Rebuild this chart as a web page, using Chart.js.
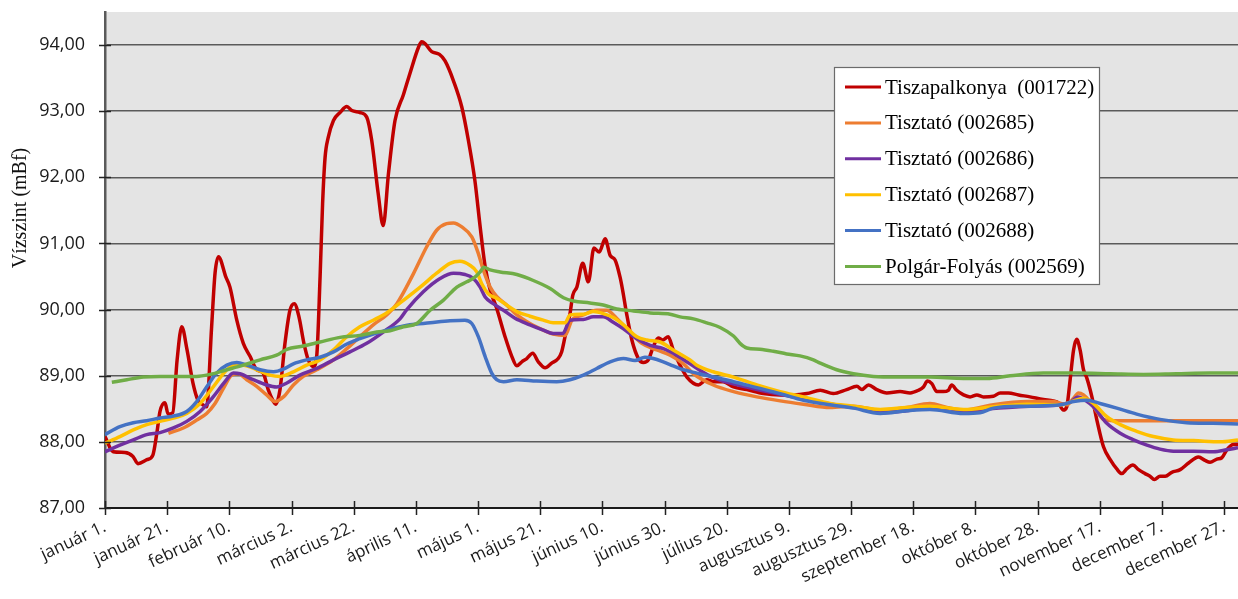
<!DOCTYPE html>
<html lang="hu">
<head>
<meta charset="utf-8">
<title>Vízszint idősorok</title>
<script src="https://cdn.jsdelivr.net/npm/chart.js@4.4.1/dist/chart.umd.min.js"></script>
<style>
  html, body { margin: 0; padding: 0; background: #ffffff; }
  #wrap { width: 1238px; height: 599px; position: relative; }
</style>
</head>
<body>
<div id="wrap"><canvas id="chart" width="1238" height="599"></canvas></div>
<script>
// Tengely feliratok (napok az év elejétől, 20 naponként)
const dateLabels = ['január 1.', 'január 21.', 'február 10.', 'március 2.', 'március 22.', 'április 11.',
  'május 1.', 'május 21.', 'június 10.', 'június 30.', 'július 20.', 'augusztus 9.', 'augusztus 29.',
  'szeptember 18.', 'október 8.', 'október 28.', 'november 17.', 'december 7.', 'december 27.'];
const yTickValues = [87, 88, 89, 90, 91, 92, 93, 94];
const yTickLabels = ['87,00', '88,00', '89,00', '90,00', '91,00', '92,00', '93,00', '94,00'];

const seriesNames = ['Tiszapalkonya  (001722)', 'Tisztató (002685)', 'Tisztató (002686)',
  'Tisztató (002687)', 'Tisztató (002688)', 'Polgár-Folyás (002569)'];

// [nap, vízszint mBf]
const tiszapalkonya = [[0,88.08],[2.6,87.85],[6.4,87.84],[9.0,87.78],[10.6,87.67],[13.5,87.73],[15.4,87.80],[16.7,88.14],[17.7,88.46],[19.3,88.59],[20.3,88.42],[21.8,88.44],[23.2,89.24],[24.7,89.74],[26.4,89.39],[28.3,88.89],[29.9,88.63],[31.5,88.56],[32.7,88.53],[34.3,89.74],[35.4,90.55],[36.5,90.80],[38.9,90.49],[40.2,90.34],[42.4,89.84],[44.5,89.49],[46.7,89.29],[48.8,89.09],[50.9,89.04],[52.5,88.79],[54.2,88.61],[54.9,88.57],[56.3,88.79],[57.9,89.49],[59.5,89.99],[60.9,90.09],[62.4,89.89],[64.0,89.49],[65.4,89.24],[67.0,89.14],[68.1,89.29],[69.2,90.50],[70.0,91.60],[70.8,92.30],[71.8,92.60],[73.5,92.86],[75.6,92.98],[77.8,93.07],[79.4,93.01],[82.0,92.98],[84.2,92.91],[85.8,92.56],[87.9,91.75],[89.5,91.27],[91.2,92.06],[93.3,92.86],[96.0,93.25],[98.1,93.57],[100.8,93.96],[101.9,94.05],[103.0,94.02],[105.1,93.90],[107.6,93.86],[109.4,93.76],[112.1,93.46],[114.8,93.06],[116.9,92.56],[119.0,91.95],[120.7,91.25],[122.3,90.65],[123.9,90.30],[126.0,90.02],[128.7,89.59],[130.9,89.29],[132.5,89.15],[134.1,89.21],[135.7,89.26],[137.6,89.34],[139.4,89.21],[141.6,89.12],[143.7,89.19],[145.8,89.26],[146.9,89.36],[148.0,89.59],[149.6,89.94],[150.5,90.22],[151.8,90.34],[153.7,90.70],[155.5,90.42],[157.3,90.93],[159.0,90.87],[160.9,91.07],[162.5,90.82],[164.1,90.75],[165.7,90.49],[166.5,90.30],[167.8,89.94],[169.5,89.54],[171.6,89.26],[173.2,89.20],[174.8,89.24],[176.4,89.44],[178.0,89.57],[179.4,89.54],[181.2,89.59],[182.8,89.39],[185.0,89.16],[187.2,88.98],[190.9,88.86],[193.6,88.94],[195.7,88.91],[198.9,88.91],[202.2,88.83],[206.5,88.79],[211.8,88.73],[217.2,88.71],[221.5,88.71],[225.8,88.73],[230.1,88.78],[234.3,88.73],[238.6,88.79],[241.9,88.84],[243.5,88.79],[245.6,88.86],[248.3,88.79],[251.5,88.74],[255.8,88.76],[259.0,88.74],[261.7,88.78],[263.3,88.83],[264.6,88.92],[266.0,88.88],[267.6,88.76],[269.7,88.76],[271.3,88.78],[272.4,88.86],[274.0,88.78],[276.2,88.71],[278.3,88.68],[280.5,88.71],[282.6,88.68],[285.8,88.69],[288.0,88.74],[290.6,88.74],[293.9,88.71],[297.6,88.68],[301.9,88.64],[305.1,88.62],[306.7,88.59],[308.3,88.48],[309.4,88.53],[310.5,88.94],[311.6,89.39],[312.6,89.55],[313.7,89.39],[314.8,89.09],[315.9,88.96],[317.5,88.68],[319.1,88.33],[321.2,87.93],[323.4,87.73],[325.5,87.59],[327.1,87.52],[328.7,87.59],[330.7,87.65],[332.5,87.58],[334.6,87.52],[336.2,87.48],[337.6,87.43],[339.4,87.48],[341.1,87.48],[343.2,87.54],[345.9,87.58],[348.6,87.68],[351.8,87.77],[353.9,87.72],[355.5,87.69],[357.7,87.74],[359.3,87.76],[360.9,87.88],[363.0,87.96],[364.5,87.96]];

const tisztato2685 = [[20.4,88.13],[25.2,88.21],[29.5,88.33],[32.7,88.43],[35.4,88.58],[38.1,88.81],[40.8,89.01],[42.9,89.03],[45.6,88.94],[48.8,88.84],[52.0,88.71],[54.7,88.61],[57.4,88.68],[60.6,88.86],[63.8,88.99],[68.1,89.09],[73.5,89.24],[77.8,89.41],[82.0,89.59],[86.3,89.77],[90.6,89.92],[93.9,90.09],[99.2,90.54],[103.5,90.95],[106.7,91.20],[109.9,91.30],[112.1,91.31],[114.8,91.25],[118.0,91.10],[120.1,90.85],[121.7,90.60],[123.9,90.34],[126.0,90.20],[129.2,90.07],[132.5,89.92],[136.7,89.79],[141.0,89.69],[144.2,89.63],[148.0,89.61],[150.2,89.84],[153.9,89.92],[158.2,89.99],[161.4,89.99],[164.6,89.87],[168.9,89.66],[172.7,89.49],[177.5,89.39],[181.8,89.31],[186.1,89.18],[189.3,89.03],[195.7,88.86],[202.2,88.76],[209.7,88.68],[217.2,88.62],[224.7,88.57],[233.3,88.52],[240.8,88.54],[249.4,88.48],[257.9,88.52],[265.4,88.58],[270.8,88.52],[276.2,88.48],[281.5,88.52],[285.8,88.56],[296.6,88.61],[305.1,88.61],[309.4,88.56],[311.6,88.66],[313.2,88.74],[314.8,88.71],[316.9,88.61],[319.1,88.46],[321.2,88.34],[324.4,88.32],[334.1,88.32],[364.5,88.32]];

const tisztato2686 = [[0,87.85],[4.8,87.95],[9.1,88.03],[13.4,88.11],[17.7,88.14],[22.0,88.21],[26.3,88.31],[30.6,88.46],[34.8,88.68],[38.6,88.91],[41.3,89.04],[43.4,89.03],[47.7,88.94],[52.0,88.86],[55.2,88.83],[58.5,88.89],[62.7,89.01],[68.1,89.11],[73.5,89.24],[78.8,89.36],[84.2,89.49],[89.5,89.66],[94.9,89.86],[97.1,90.00],[102.4,90.27],[107.8,90.47],[112.1,90.55],[115.8,90.53],[118.5,90.47],[120.7,90.34],[122.3,90.19],[124.9,90.09],[128.2,89.99],[131.9,89.87],[136.7,89.77],[141.0,89.69],[144.2,89.64],[147.3,89.64],[149.6,89.84],[153.9,89.85],[157.1,89.89],[160.3,89.89],[163.5,89.81],[166.8,89.71],[171.1,89.56],[175.4,89.46],[179.6,89.41],[183.9,89.31],[188.2,89.18],[195.7,88.97],[206.5,88.83],[217.2,88.72],[227.8,88.62],[236.5,88.55],[246.1,88.48],[249.4,88.44],[257.9,88.47],[265.4,88.52],[271.9,88.50],[276.1,88.45],[284.7,88.50],[297.6,88.54],[307.3,88.56],[310.5,88.60],[313.1,88.68],[315.6,88.62],[318.0,88.53],[322.3,88.28],[326.6,88.13],[330.9,88.03],[335.2,87.95],[339.4,87.89],[343.7,87.86],[350.2,87.86],[356.6,87.85],[360.9,87.88],[364.5,87.91]];

const tisztato2687 = [[0,87.98],[4.8,88.08],[9.1,88.18],[13.4,88.26],[17.7,88.31],[22.0,88.36],[26.3,88.43],[30.6,88.58],[34.8,88.83],[38.6,89.06],[41.3,89.16],[44.5,89.16],[48.8,89.09],[53.1,89.01],[56.3,88.99],[60.6,89.06],[64.9,89.16],[69.2,89.24],[73.5,89.39],[77.8,89.59],[82.0,89.74],[86.3,89.84],[90.6,89.95],[96.0,90.14],[101.4,90.34],[106.7,90.55],[111.0,90.70],[114.2,90.73],[117.4,90.67],[119.6,90.57],[121.2,90.39],[123.3,90.24],[126.0,90.17],[129.2,90.07],[132.5,89.97],[136.7,89.90],[141.0,89.84],[144.2,89.80],[148.0,89.80],[149.6,89.92],[153.9,89.93],[157.1,89.97],[160.3,89.94],[163.5,89.88],[166.8,89.77],[171.1,89.59],[174.3,89.54],[178.6,89.51],[182.8,89.39],[188.2,89.24],[190.4,89.16],[195.7,89.06],[202.2,88.98],[209.7,88.86],[217.2,88.76],[224.7,88.68],[233.3,88.58],[240.8,88.54],[249.4,88.49],[257.9,88.52],[265.4,88.54],[276.2,88.49],[285.8,88.53],[296.6,88.57],[307.3,88.56],[311.6,88.62],[314.8,88.66],[318.0,88.58],[322.3,88.38],[326.6,88.26],[331.9,88.16],[337.3,88.08],[343.7,88.03],[350.2,88.02],[358.8,88.00],[364.5,88.03]];

const tisztato2688 = [[0,88.11],[4.8,88.23],[9.1,88.29],[13.4,88.32],[17.7,88.36],[22.0,88.39],[26.3,88.46],[29.5,88.61],[32.7,88.83],[35.9,89.04],[39.2,89.16],[42.4,89.20],[45.6,89.16],[49.9,89.09],[54.2,89.06],[57.4,89.10],[60.6,89.18],[64.9,89.24],[69.2,89.28],[73.5,89.36],[77.8,89.48],[82.0,89.56],[86.3,89.63],[90.6,89.69],[94.9,89.74],[98.1,89.77],[104.6,89.80],[111.0,89.83],[115.8,89.84],[118.0,89.79],[120.1,89.59],[122.3,89.29],[124.4,89.04],[126.0,88.94],[128.2,88.91],[132.5,88.94],[138.9,88.92],[145.3,88.91],[149.6,88.94],[153.9,89.01],[158.2,89.11],[162.5,89.21],[166.8,89.26],[170.5,89.23],[173.7,89.28],[176.4,89.26],[179.6,89.21],[182.8,89.15],[186.1,89.09],[190.4,89.04],[195.7,88.98],[202.2,88.91],[209.7,88.82],[217.2,88.73],[224.7,88.63],[233.3,88.56],[240.8,88.51],[249.4,88.43],[257.9,88.47],[265.4,88.49],[276.2,88.43],[281.5,88.44],[285.8,88.51],[296.6,88.54],[307.3,88.56],[311.6,88.61],[315.9,88.63],[320.1,88.58],[325.5,88.51],[331.9,88.42],[339.4,88.34],[348.0,88.29],[356.6,88.28],[364.5,88.27]];

const polgarFolyas = [[2.2,88.90],[7.0,88.94],[12.3,88.98],[17.7,88.99],[24.1,88.99],[29.5,88.99],[33.8,89.02],[39.2,89.09],[44.5,89.16],[49.9,89.24],[55.2,89.31],[58.5,89.40],[63.8,89.45],[69.2,89.51],[75.6,89.58],[82.0,89.61],[87.4,89.66],[91.7,89.68],[96.0,89.74],[100.3,89.79],[104.6,89.99],[108.8,90.14],[113.2,90.34],[116.4,90.42],[119.0,90.49],[120.7,90.57],[121.9,90.64],[123.9,90.60],[127.1,90.57],[132.5,90.53],[137.8,90.44],[143.2,90.32],[147.5,90.18],[150.7,90.13],[156.0,90.10],[160.3,90.07],[164.6,90.01],[170.0,89.98],[175.4,89.95],[181.8,89.93],[185.0,89.89],[189.3,89.86],[193.6,89.80],[197.9,89.73],[202.2,89.60],[204.3,89.49],[206.5,89.42],[210.7,89.40],[215.0,89.37],[219.3,89.33],[223.6,89.30],[227.9,89.24],[230.1,89.19],[235.4,89.09],[240.8,89.03],[247.2,88.99],[254.7,88.98],[265.4,88.98],[276.2,88.96],[283.7,88.96],[291.2,89.00],[301.9,89.04],[312.6,89.04],[323.4,89.03],[334.1,89.02],[344.7,89.03],[355.5,89.04],[364.5,89.04]];

const seriesData = [tiszapalkonya, tisztato2685, tisztato2686, tisztato2687, tisztato2688, polgarFolyas];
const seriesColors = ['#C00000', '#ED7D31', '#7030A0', '#FFC000', '#4472C4', '#70AD47'];

const AXIS_FONT = '"Open Sans", "DejaVu Sans", sans-serif';
const SERIF_FONT = '"Liberation Serif", "Times New Roman", serif';

// Szürke rajzterület háttér
const plotBackground = {
  id: 'plotBackground',
  beforeDraw(chart) {
    const { ctx, chartArea: a } = chart;
    ctx.save();
    ctx.fillStyle = '#e4e4e4';
    ctx.fillRect(a.left, a.top, a.right - a.left, a.bottom - a.top);
    ctx.restore();
  }
};

// Tengelyeket keresztező osztásjelek
const crossTicks = {
  id: 'crossTicks',
  afterDatasetsDraw(chart) {
    const { ctx, chartArea: a, scales } = chart;
    ctx.save();
    ctx.strokeStyle = '#222';
    ctx.lineWidth = 1.5;
    ctx.beginPath();
    scales.x.ticks.forEach(t => {
      const px = Math.round(scales.x.getPixelForValue(t.value)) + 0.5;
      ctx.moveTo(px, a.bottom - 7);
      ctx.lineTo(px, a.bottom + 7);
    });
    scales.y.ticks.forEach(t => {
      const py = Math.round(scales.y.getPixelForValue(t.value)) + 0.5;
      ctx.moveTo(a.left - 6, py);
      ctx.lineTo(a.left + 6, py);
    });
    ctx.stroke();
    ctx.restore();
  }
};

// Függőleges tengelycím
const yAxisTitle = {
  id: 'yAxisTitle',
  afterDraw(chart) {
    const { ctx } = chart;
    ctx.save();
    ctx.translate(21, 208);
    ctx.rotate(-Math.PI / 2);
    ctx.font = '20px ' + SERIF_FONT;
    ctx.fillStyle = '#111';
    ctx.textAlign = 'center';
    ctx.textBaseline = 'middle';
    ctx.fillText('Vízszint (mBf)', 0, 0);
    ctx.restore();
  }
};

// Jelmagyarázat a rajzterületen belül
const boxLegend = {
  id: 'boxLegend',
  afterDraw(chart, args, opts) {
    const { ctx } = chart;
    const { x, y, w, h, firstRow, rowStep } = opts;
    ctx.save();
    ctx.fillStyle = '#ffffff';
    ctx.fillRect(x, y, w, h);
    ctx.strokeStyle = '#6b6b6b';
    ctx.lineWidth = 1.2;
    ctx.strokeRect(x + 0.5, y + 0.5, w, h);
    ctx.font = '21px ' + SERIF_FONT;
    ctx.textBaseline = 'middle';
    ctx.textAlign = 'left';
    chart.data.datasets.forEach((ds, i) => {
      const cy = y + firstRow + i * rowStep;
      ctx.strokeStyle = ds.borderColor;
      ctx.lineWidth = 3;
      ctx.beginPath();
      ctx.moveTo(x + 11, cy);
      ctx.lineTo(x + 47, cy);
      ctx.stroke();
      ctx.fillStyle = '#000';
      ctx.fillText(ds.label, x + 51, cy + 1);
    });
    ctx.restore();
  }
};

const datasets = seriesData.map((pts, i) => ({
  label: seriesNames[i],
  data: pts.map(p => ({ x: p[0], y: p[1] })),
  borderColor: seriesColors[i],
  backgroundColor: seriesColors[i],
  borderWidth: 3.5,
  pointRadius: 0,
  fill: false,
  cubicInterpolationMode: 'monotone',
  order: seriesData.length - i
}));

new Chart(document.getElementById('chart'), {
  type: 'line',
  data: { datasets },
  plugins: [plotBackground, crossTicks, yAxisTitle, boxLegend],
  options: {
    responsive: false,
    animation: false,
    layout: { padding: { top: 12, left: 0, right: 0, bottom: 0 } },
    plugins: {
      legend: { display: false },
      tooltip: { enabled: false },
      boxLegend: { x: 834, y: 67, w: 265, h: 217, firstRow: 20, rowStep: 35.9 }
    },
    scales: {
      x: {
        type: 'linear',
        min: 0,
        max: 364.5,
        afterBuildTicks: s => { s.ticks = dateLabels.map((_, i) => ({ value: i * 20 })); },
        afterFit: s => { s.height = 91; s.paddingLeft = 0; s.paddingRight = 0; },
        ticks: {
          autoSkip: false,
          minRotation: 25,
          maxRotation: 25,
          padding: 9,
          color: '#1a1a1a',
          font: { family: AXIS_FONT, size: 17 },
          callback: v => dateLabels[Math.round(v / 20)]
        },
        grid: { display: false, drawTicks: false },
        border: { display: true, color: '#1a1a1a', width: 2 }
      },
      y: {
        type: 'linear',
        min: 87,
        max: 94.5,
        afterBuildTicks: s => { s.ticks = yTickValues.map(v => ({ value: v })); },
        afterFit: s => { s.width = 105; s.paddingTop = 0; s.paddingBottom = 0; },
        ticks: {
          padding: 20,
          color: '#1a1a1a',
          font: { family: AXIS_FONT, size: 18 },
          callback: v => yTickLabels[yTickValues.indexOf(v)]
        },
        grid: { color: '#5a5a5a', lineWidth: 1.4, drawTicks: false },
        border: { display: true, color: '#5a5a5a', width: 2.5 }
      }
    }
  }
});
</script>
</body>
</html>
